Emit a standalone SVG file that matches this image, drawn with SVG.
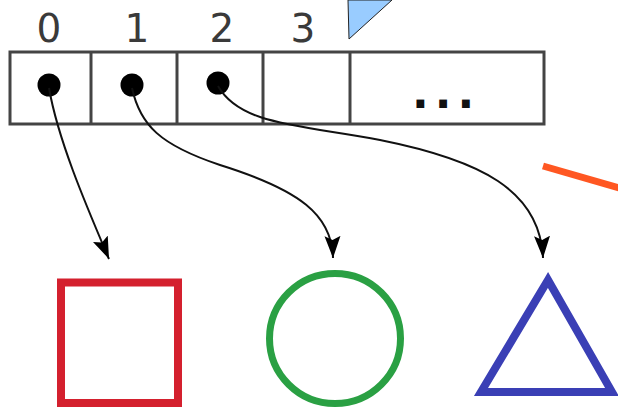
<svg xmlns="http://www.w3.org/2000/svg" width="618" height="409" viewBox="0 0 618 409">
<style>
.idx{font-family:"DejaVu Sans",sans-serif;font-size:39px;fill:#3a3a3a;text-anchor:middle}
.cell{fill:#fff;stroke:#444;stroke-width:3}
.dot{fill:#000}
.conn{fill:none;stroke:#111;stroke-width:2}
.ell{font-family:"DejaVu Sans",sans-serif;font-size:44px;font-weight:bold;fill:#111;letter-spacing:6px}
</style>
<defs>
<marker id="ah" markerUnits="userSpaceOnUse" markerWidth="24" markerHeight="18" refX="22" refY="8" orient="auto">
<path d="M0,0 L22,8 L0,16 L4,8 Z" fill="#000"/>
</marker>
</defs>
<rect width="618" height="409" fill="#fff"/>
<g id="array">
<rect class="cell" x="10" y="52" width="534" height="72"/>
<line x1="91" y1="52" x2="91" y2="124" stroke="#444" stroke-width="3"/>
<line x1="177" y1="52" x2="177" y2="124" stroke="#444" stroke-width="3"/>
<line x1="263" y1="52" x2="263" y2="124" stroke="#444" stroke-width="3"/>
<line x1="350" y1="52" x2="350" y2="124" stroke="#444" stroke-width="3"/>
<text class="idx" x="49" y="42">0</text>
<text class="idx" x="137" y="42">1</text>
<text class="idx" x="222" y="42">2</text>
<text class="idx" x="303" y="42">3</text>
<circle class="dot" cx="49" cy="85" r="11.5"/>
<circle class="dot" cx="132" cy="85" r="11.5"/>
<circle class="dot" cx="218" cy="83" r="11.5"/>
<text class="ell" x="412" y="108">...</text>
</g>
<g id="pointer">
<polygon points="348,0 392,0 349,39" fill="#99ccff" stroke="#222" stroke-width="1"/>
</g>
<g id="connectors">
<path class="conn" d="M49,88 C58,140 86,205 109,259" marker-end="url(#ah)"/>
<path class="conn" d="M132,88 C140,125 160,145 220,165 C300,190 332,215 333,258" marker-end="url(#ah)"/>
<path class="conn" d="M218,86 C240,125 300,125 380,140 C480,160 540,190 543,258" marker-end="url(#ah)"/>
</g>
<g id="orange-line">
<line x1="543" y1="166" x2="640" y2="194" stroke="#ff5722" stroke-width="7"/>
</g>
<g id="square">
<rect x="61" y="282.5" width="117" height="120.5" fill="none" stroke="#d4202e" stroke-width="8"/>
</g>
<g id="circle">
<ellipse cx="335" cy="338.5" rx="65.5" ry="65" fill="none" stroke="#2aa043" stroke-width="7"/>
</g>
<g id="triangle">
<polygon points="548,280 481,392 612,392" fill="none" stroke="#3a3fb5" stroke-width="8" stroke-linejoin="miter"/>
</g>
</svg>
